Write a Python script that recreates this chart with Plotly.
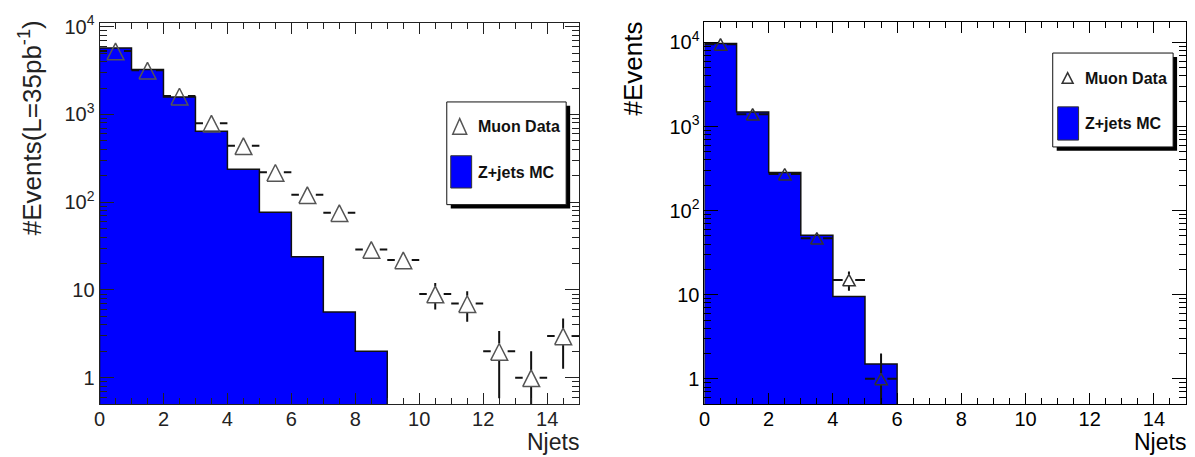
import math
import plotly.graph_objects as go

W, H = 1195, 457
FONT = "Liberation Sans, Arial, Helvetica, sans-serif"
BLUE = "#0000ff"

# Jet multiplicity bins (Njets = 0 .. 14), bin width 1
njet_bins = list(range(15))

# Left: muon data vs Z+jets MC, L = 35 pb^-1
data_35pb = [5300, 3200, 1620, 795, 440, 219, 122, 76, 29, 22, 9, 7, 2, 1, 3]
mc_35pb = [5700, 3250, 1580, 645, 237, 77, 24, 5.6, 2.0]

# Right: muon data vs Z+jets MC
data_events = [9500, 1400, 272, 47, 15, 1]
mc_events = [9700, 1490, 284, 51, 9.5, 1.5]

x_tickvals = list(range(0, 15, 2))
y_tickvals = [1, 10, 100, 1000, 10000]
y_ticktext = ["1", "10", "10<sup>2</sup>", "10<sup>3</sup>", "10<sup>4</sup>"]
y_minorvals = [m * 10 ** e for e in range(-1, 5) for m in range(2, 10)] + [0.5]

# tri = (half width, apex above centre, base below centre) in screen pixels
panels = [
    dict(data=data_35pb, mc=mc_35pb, xpx=(94, 576), ypx=(13, 403),
         ymax=11100, tri=(8.5, 8, 9), mcolor="#555555", ink="#222222",
         ytitle="#Events(L=35pb<sup>-1</sup>)", ytitle_xy=(25, 120), ytitle_size=26,
         njets_xy=(577, 442),
         legend=dict(box=(443, 94, 563, 199), tri=(456, 111, 127, 7),
                     swatch=(447, 149, 468, 182), text_x=472,
                     text_y=(119, 166))),
    dict(data=data_events, mc=mc_events, xpx=(702, 1186), ypx=(12, 403),
         ymax=17600, tri=(6.3, 5.7, 6), mcolor="#333333", ink="#000000",
         ytitle="#Events", ytitle_xy=(630, 60), ytitle_size=26,
         njets_xy=(1187, 442),
         legend=dict(box=(1052, 44, 1173, 140), tri=(1067, 64, 75, 5.5),
                     swatch=(1057, 99, 1078, 133), text_x=1082,
                     text_y=(70, 116))),
]
YMIN = 0.5
XRANGE = (0, 15)


def scales(p, yrange_log):
    ppx = (p["xpx"][1] - p["xpx"][0]) / (XRANGE[1] - XRANGE[0])
    ppd = (p["ypx"][1] - p["ypx"][0]) / (yrange_log[1] - yrange_log[0])
    return ppx, ppd


def triangle_outlines(xs, ys, p, yrange_log):
    """Open triangle markers centred on each data point."""
    ppx, ppd = scales(p, yrange_log)
    hw, up, dn = p["tri"]
    dx = hw / ppx
    fu, fd = 10 ** (up / ppd), 10 ** (-dn / ppd)
    tx, ty = [], []
    for x, y in zip(xs, ys):
        tx += [x - dx, x + dx, x, x - dx, None]
        ty += [y * fd, y * fd, y * fu, y * fd, None]
    return tx, ty


def error_segments(xs, ys, p, yrange_log):
    """Bin-width and sqrt(N) error bars, broken around the triangle marker."""
    ppx, ppd = scales(p, yrange_log)
    hw, up, dn = p["tri"]
    gx = hw / ppx
    fu, fd = 10 ** (up / ppd), 10 ** (dn / ppd)
    sx, sy = [], []
    for x, y in zip(xs, ys):
        sx += [x - 0.5, x - gx, None, x + gx, x + 0.5, None]
        sy += [y, y, None, y, y, None]
        err = math.sqrt(y)
        lo = y - err if y - err > 0 else 1e-3
        hi = y + err
        if hi > y * fu:
            sx += [x, x, None]
            sy += [y * fu, hi, None]
        if lo < y / fd:
            sx += [x, x, None]
            sy += [lo, y / fd, None]
    return sx, sy


fig = go.Figure()
shapes, annotations = [], []
layout_axes = {}

for i, p in enumerate(panels):
    n = i + 1
    xa = "x" if n == 1 else f"x{n}"
    ya = "y" if n == 1 else f"y{n}"
    yrange_log = [math.log10(YMIN), math.log10(p["ymax"])]

    # filled step histogram for the MC, closed below the axis floor
    mc = p["mc"]
    edges = njet_bins[:len(mc) + 1]
    hx = [edges[0]] + edges + [edges[-1]]
    hy = [1e-3] + mc + [mc[-1], 1e-3]
    fig.add_trace(go.Scatter(x=hx, y=hy, mode="lines", fill="toself", fillcolor=BLUE,
                             line=dict(color="#111111", width=1.5, shape="hv"),
                             xaxis=xa, yaxis=ya, showlegend=False, name="Z+jets MC",
                             hoverinfo="skip"))

    data = p["data"]
    centers = [b + 0.5 for b in njet_bins[:len(data)]]
    ex, ey = error_segments(centers, data, p, yrange_log)
    fig.add_trace(go.Scatter(x=ex, y=ey, mode="lines", line=dict(color="#111111", width=2),
                             xaxis=xa, yaxis=ya, showlegend=False, hoverinfo="skip"))
    tx, ty = triangle_outlines(centers, data, p, yrange_log)
    fig.add_trace(go.Scatter(x=tx, y=ty, mode="lines", line=dict(color=p["mcolor"], width=1.5),
                             xaxis=xa, yaxis=ya, showlegend=False, name="Muon Data",
                             hoverinfo="skip"))
    fig.add_trace(go.Scatter(x=centers, y=data, mode="markers", marker=dict(size=14, opacity=0),
                             xaxis=xa, yaxis=ya, showlegend=False, name="Muon Data"))

    xdom = [p["xpx"][0] / W, p["xpx"][1] / W]
    ydom = [1 - p["ypx"][1] / H, 1 - p["ypx"][0] / H]
    ink = p["ink"]
    layout_axes["xaxis" if n == 1 else f"xaxis{n}"] = dict(
        domain=xdom, range=list(XRANGE), anchor=ya, tickmode="array", tickvals=x_tickvals,
        ticks="inside", ticklen=11, tickwidth=1, tickcolor=ink, ticklabelstandoff=-3,
        minor=dict(dtick=0.5, tick0=0, ticks="inside", ticklen=6, tickwidth=1, tickcolor=ink, showgrid=False),
        showline=True, linecolor=ink, linewidth=1, mirror="allticks", showgrid=False, zeroline=False,
        tickfont=dict(family=FONT, size=20, color=ink), fixedrange=True)
    layout_axes["yaxis" if n == 1 else f"yaxis{n}"] = dict(
        domain=ydom, type="log", range=yrange_log, anchor=xa, tickmode="array",
        tickvals=y_tickvals, ticktext=y_ticktext,
        ticks="inside", ticklen=14, tickwidth=1, tickcolor=ink,
        minor=dict(tickmode="array", tickvals=y_minorvals, ticks="inside", ticklen=7, tickwidth=1,
                   tickcolor=ink, showgrid=False),
        showline=True, linecolor=ink, linewidth=1, mirror="allticks", showgrid=False, zeroline=False,
        tickfont=dict(family=FONT, size=20, color=ink), fixedrange=True)

    # axis titles
    tx0, ty0 = p["ytitle_xy"]
    annotations.append(dict(x=tx0, y=ty0, xref="x3", yref="y3", text=p["ytitle"], textangle=-90,
                            showarrow=False, font=dict(family=FONT, size=p["ytitle_size"], color=ink)))
    nx, ny = p["njets_xy"]
    annotations.append(dict(x=nx, y=ny, xref="x3", yref="y3", text="Njets", xanchor="right",
                            showarrow=False, borderpad=0, font=dict(family=FONT, size=23, color=ink)))

    # legend box with drop shadow
    lg = p["legend"]
    x0, y0, x1, y1 = lg["box"]
    shapes.append(dict(type="rect", xref="x3", yref="y3", x0=x0 + 4, y0=y0 + 4, x1=x1 + 4, y1=y1 + 4,
                       fillcolor="#000000", line=dict(width=0), layer="above"))
    shapes.append(dict(type="rect", xref="x3", yref="y3", x0=x0, y0=y0, x1=x1, y1=y1,
                       fillcolor="#ffffff", line=dict(color="#111111", width=1), layer="above"))
    cx, ytop, ybot, hw = lg["tri"]
    shapes.append(dict(type="path", xref="x3", yref="y3",
                       path=f"M{cx - hw},{ybot} L{cx + hw},{ybot} L{cx},{ytop} Z",
                       line=dict(color=p["mcolor"], width=1.5), fillcolor="rgba(0,0,0,0)", layer="above"))
    sx0, sy0, sx1, sy1 = lg["swatch"]
    shapes.append(dict(type="rect", xref="x3", yref="y3", x0=sx0, y0=sy0, x1=sx1, y1=sy1,
                       fillcolor=BLUE, line=dict(color="#333333", width=1), layer="above"))
    for label, yy in zip(["Muon Data", "Z+jets MC"], lg["text_y"]):
        annotations.append(dict(x=lg["text_x"], y=yy, xref="x3", yref="y3", text=f"<b>{label}</b>",
                                xanchor="left", showarrow=False,
                                font=dict(family=FONT, size=16, color="#111111")))

# pixel-space overlay used for titles and legend boxes
layout_axes["xaxis3"] = dict(domain=[0, 1], range=[0, W], visible=False, anchor="y3", fixedrange=True)
layout_axes["yaxis3"] = dict(domain=[0, 1], range=[H, 0], visible=False, anchor="x3", fixedrange=True)
fig.add_trace(go.Scatter(x=[], y=[], xaxis="x3", yaxis="y3", showlegend=False))

fig.update_layout(
    width=W, height=H, margin=dict(l=0, r=0, t=0, b=0),
    paper_bgcolor="white", plot_bgcolor="rgba(0,0,0,0)",
    showlegend=False, shapes=shapes, annotations=annotations, hovermode="closest",
    **layout_axes,
)

fig.write_html("out.html")
